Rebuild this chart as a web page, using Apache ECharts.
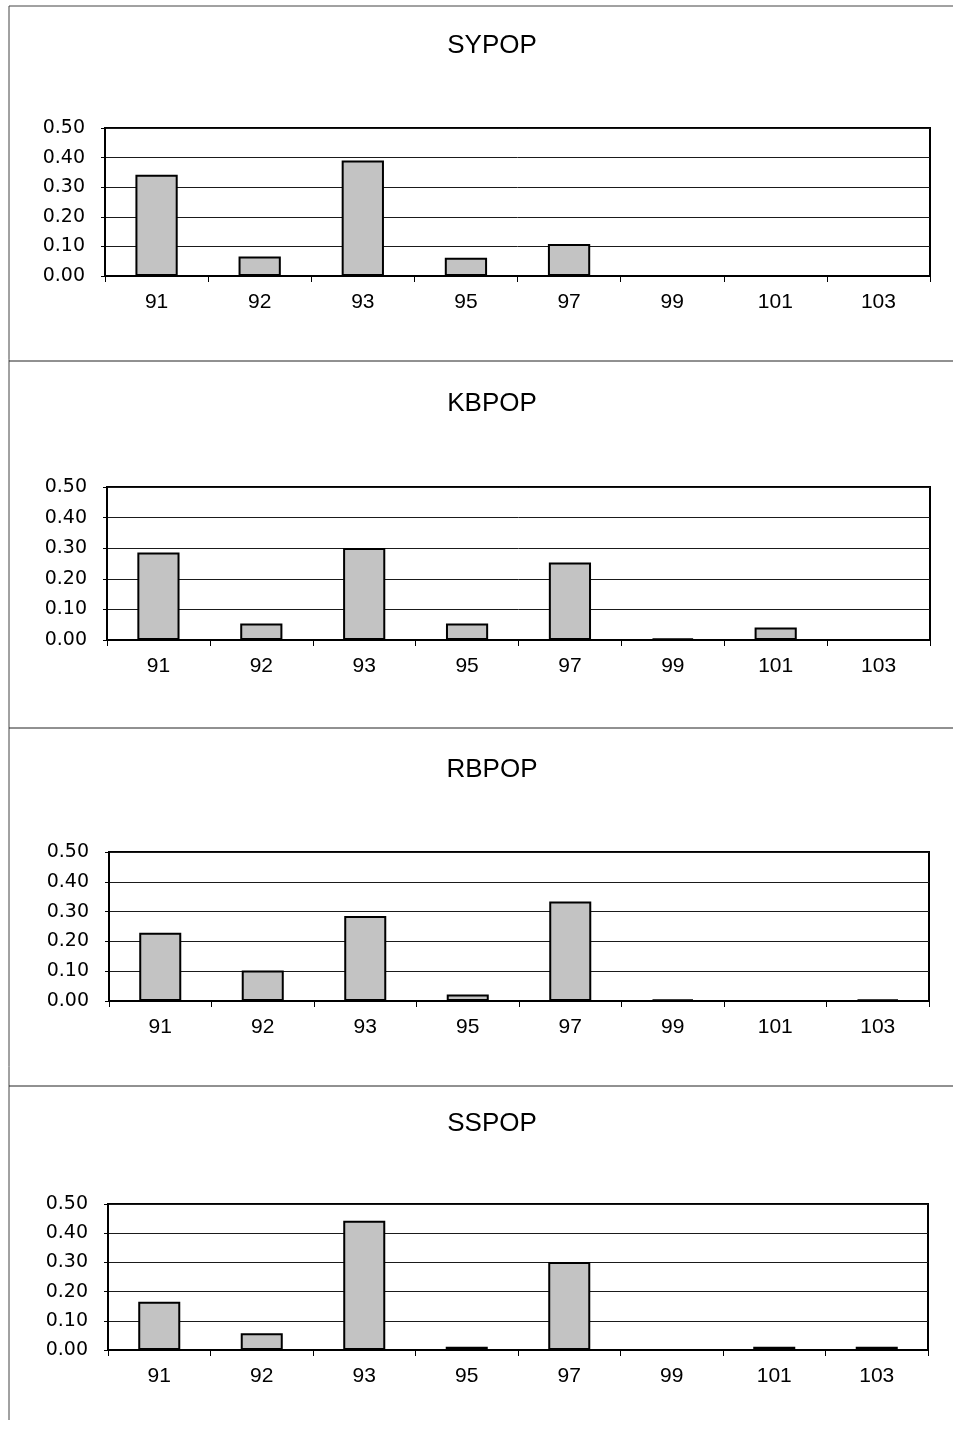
<!DOCTYPE html>
<html>
<head>
<meta charset="utf-8">
<script src="https://cdn.jsdelivr.net/npm/echarts@6/dist/echarts.min.js"></script>
<style>
html,body{margin:0;padding:0;background:#fff;}
#c{width:953px;height:1431px;}
</style>
</head>
<body>
<div id="c"></div>
<script>
const categories = ['91','92','93','95','97','99','101','103'];
const titles = ['SYPOP','KBPOP','RBPOP','SSPOP'];
const sypop = [0.342, 0.066, 0.390, 0.062, 0.108, 0, 0, 0];
const kbpop = [0.286, 0.054, 0.301, 0.054, 0.253, 0.005, 0.041, 0];
const rbpop = [0.229, 0.102, 0.285, 0.022, 0.334, 0.005, 0, 0.005];
const sspop = [0.165, 0.057, 0.443, 0.011, 0.301, 0, 0.011, 0.011];
const seriesData = [sypop, kbpop, rbpop, sspop];

const grids = [
  {left:105, top:128, width:825, height:148},
  {left:107, top:487, width:823, height:153},
  {left:109, top:852, width:820, height:149},
  {left:108, top:1204, width:820, height:146}
];
const titleTops = [28, 386, 752, 1106];
const font = 'Liberation Sans, Arial, sans-serif';
const yFont = 'DejaVu Sans, sans-serif';

const chart = echarts.init(document.getElementById('c'), null, {renderer:'canvas'});
const option = {
  animation:false,
  backgroundColor:'#fff',
  title: titles.map((t,i)=>({
    text:t, left:487, top:titleTops[i], textAlign:'center',
    textStyle:{fontFamily:font, fontSize:26, fontWeight:'normal', color:'#000'}
  })),
  grid: grids.map(g=>Object.assign({show:true, borderColor:'#000', borderWidth:2, backgroundColor:'transparent'}, g)),
  xAxis: grids.map((g,i)=>({
    type:'category', gridIndex:i, data:categories,
    axisLine:{show:true, lineStyle:{color:'#000', width:2}},
    axisTick:{show:true, alignWithLabel:false, length:6, lineStyle:{color:'#000', width:1}},
    axisLabel:{fontFamily:font, fontSize:21, color:'#000', margin:16},
    splitLine:{show:false}
  })),
  yAxis: grids.map((g,i)=>({
    type:'value', gridIndex:i, min:0, max:0.5, interval:0.1,
    axisLine:{show:true, lineStyle:{color:'#000', width:2}},
    axisTick:{show:true, length:4, lineStyle:{color:'#000', width:1}},
    axisLabel:{fontFamily:yFont, fontSize:19, color:'#000', margin:20, formatter:v=>v.toFixed(2)},
    splitLine:{show:true, lineStyle:{color:'#1a1a1a', width:1}}
  })),
  series: seriesData.map((d,i)=>({
    type:'bar', xAxisIndex:i, yAxisIndex:i, data:d, barWidth:'41%',
    itemStyle:{color:'#c3c3c3', borderColor:'#000', borderWidth:2}
  })),
  graphic: [
    {type:'polyline', shape:{points:[[9,1420],[9,6],[953,6]]}, style:{stroke:'#444', lineWidth:1, fill:null}},
    {type:'line', shape:{x1:9,y1:361,x2:953,y2:361}, style:{stroke:'#222', lineWidth:1}},
    {type:'line', shape:{x1:9,y1:728,x2:953,y2:728}, style:{stroke:'#222', lineWidth:1}},
    {type:'line', shape:{x1:9,y1:1086,x2:953,y2:1086}, style:{stroke:'#222', lineWidth:1}}
  ]
};
chart.setOption(option);
</script>
</body>
</html>
